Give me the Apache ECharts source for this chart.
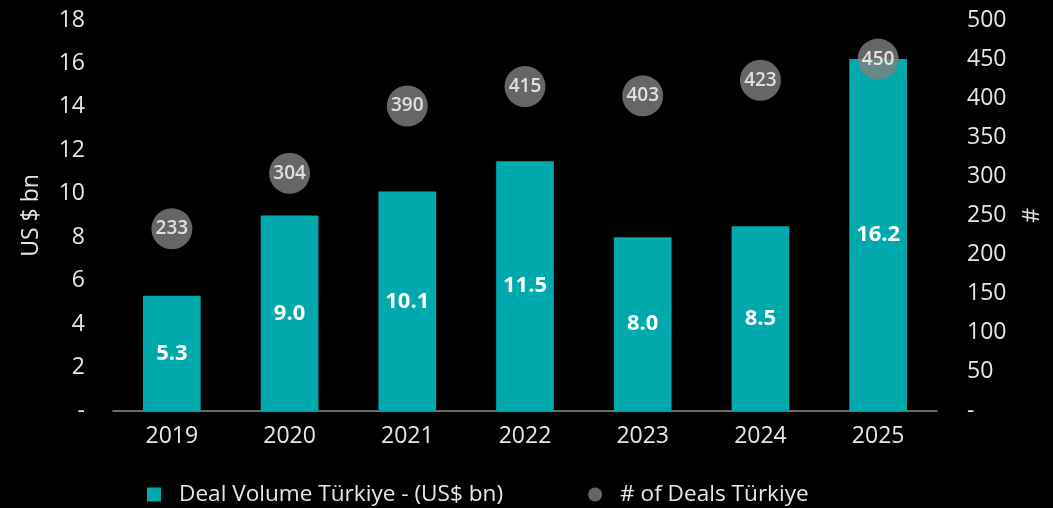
<!DOCTYPE html>
<html>
<head>
<meta charset="utf-8">
<script src="https://cdn.jsdelivr.net/npm/echarts@6/dist/echarts.min.js"></script>
<style>
  html, body { margin: 0; padding: 0; background: #000; }
  #main { width: 1053px; height: 508px; }
</style>
</head>
<body>
<div id="main"></div>
<script>
// 数据
var years = ['2019', '2020', '2021', '2022', '2023', '2024', '2025'];
var dealVolume = [5.3, 9.0, 10.1, 11.5, 8.0, 8.5, 16.2];
var dealCount = [233, 304, 390, 415, 403, 423, 450];

var teal = '#00A9AC';
var grey = '#7F7F7F';
var txt = '#E6E6E6';
var font = '"Open Sans", "Noto Sans", sans-serif';

var chart = echarts.init(document.getElementById('main'));

function zeroDash(v) {
  return v === 0 ? '-' : v;
}

var option = {
  backgroundColor: '#000',
  animation: false,
  textStyle: { fontFamily: font },
  grid: { left: 113, right: 116, top: 20, bottom: 97 },
  legend: {
    left: 147,
    top: 483,
    padding: 0,
    itemGap: 85,
    itemWidth: 14,
    itemHeight: 14,
    textStyle: { color: txt, fontSize: 22.6, fontFamily: font, padding: [0, 0, 0, 13] },
    data: [
      { name: 'Deal Volume Türkiye - (US$ bn)', icon: 'rect' },
      { name: '# of Deals Türkiye', icon: 'circle' }
    ]
  },
  xAxis: {
    type: 'category',
    data: years,
    axisLine: { lineStyle: { color: '#8C8C8C', width: 1.5 } },
    axisTick: { length: 8, lineStyle: { color: '#8C8C8C' } },
    axisLabel: { color: txt, fontSize: 23, margin: 14, fontFamily: font }
  },
  yAxis: [
    {
      type: 'value',
      min: 0, max: 18, interval: 2,
      name: 'US $ bn',
      nameLocation: 'middle',
      nameGap: 70,
      nameTextStyle: { color: txt, fontSize: 23, fontFamily: font },
      splitLine: { show: false },
      axisLine: { show: false },
      axisTick: { show: false },
      axisLabel: { color: txt, fontSize: 23, margin: 28, formatter: zeroDash, fontFamily: font }
    },
    {
      type: 'value',
      min: 0, max: 500, interval: 50,
      name: '#',
      nameLocation: 'middle',
      nameGap: 72,
      nameRotate: -90,
      nameTextStyle: { color: txt, fontSize: 23, fontFamily: font },
      splitLine: { show: false },
      axisLine: { show: false },
      axisTick: { show: false },
      axisLabel: { color: txt, fontSize: 23, margin: 30, formatter: zeroDash, fontFamily: font }
    }
  ],
  series: [
    {
      name: 'Deal Volume Türkiye - (US$ bn)',
      type: 'bar',
      data: dealVolume,
      barWidth: '49%',
      itemStyle: { color: teal },
      label: {
        show: true,
        position: 'inside',
        color: '#fff',
        fontSize: 22,
        fontWeight: 'bold',
        fontFamily: font,
        formatter: function (p) { return p.value.toFixed(1); }
      }
    },
    {
      name: '# of Deals Türkiye',
      type: 'scatter',
      yAxisIndex: 1,
      data: dealCount,
      symbolSize: 41,
      itemStyle: { color: grey },
      label: {
        show: true,
        position: 'inside',
        color: '#fff',
        fontSize: 19,
        fontWeight: 600,
        fontFamily: font
      },
      z: 5
    }
  ]
};

chart.setOption(option);
</script>
</body>
</html>
